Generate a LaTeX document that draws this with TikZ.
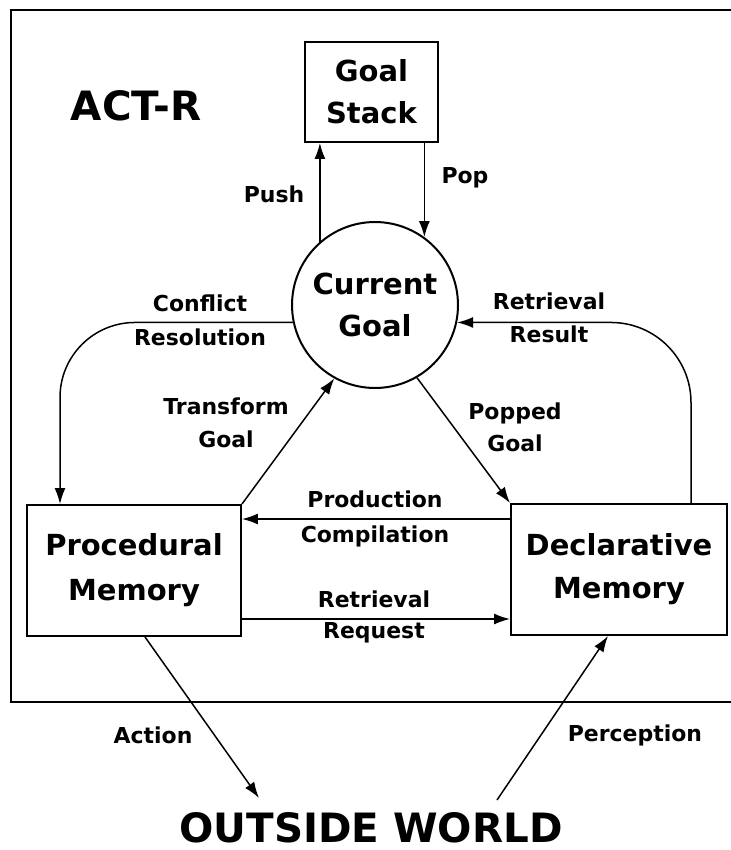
\documentclass[tikz,border=0pt]{standalone}
\usepackage{fontspec}
\setmainfont{DejaVu Sans}
\usepackage{tikz}
\usetikzlibrary{arrows.meta,calc}
\tikzstyle{tsLabel} = [
    text=black,
    font=\bfseries\fontsize{12.5}{15}\selectfont,
    align=center,
    inner sep=0pt
]
\tikzstyle{tsBig} = [
    text=black,
    font=\bfseries\fontsize{16.5}{21}\selectfont,
    align=center
]
\tikzstyle{tsTitle} = [
    text=black,
    font=\bfseries\fontsize{23}{28}\selectfont,
    inner sep=0pt
]
\tikzstyle{tsBox} = [
    rectangle,
    tsBig,
    draw=black,
    line width=0.4mm
]
\tikzstyle{tsArrow} = [
    draw=black,
    line width=0.3mm,
    -{Latex[length=3.2mm,width=2.2mm]}
]

\begin{document}
\begin{tikzpicture}[x=0.02cm, y=-0.02cm]

    \useasboundingbox (0,0) rectangle (731,850);

    % outer frame, open on the right
    \draw[line width=0.4mm] (731,10) -- (11,10) -- (11,702) -- (731,702);

    \node[tsTitle] (actr) at (136,106) {ACT-R};

    \node[  tsBox,
            minimum width=2.66cm,
            minimum height=2cm] (gs) at (371.5,92) {Goal\\[3pt]Stack};

    \node[  tsBox,
            circle,
            minimum size=3.32cm,
            inner sep=0pt] (cur) at (375,305) {Current\\[3pt]Goal};

    \node[  tsBox,
            minimum width=4.28cm,
            minimum height=2.62cm] (proc) at (134,570.5) {Procedural\\[4.5pt]Memory};

    \node[  tsBox,
            minimum width=4.32cm,
            minimum height=2.62cm] (decl) at (619,569.5) {Declarative\\[3.5pt]Memory};

    \node[tsTitle] (world) at (371,828) {OUTSIDE WORLD};

    % helper coordinates for the connectors
    \coordinate (cConf) at (60,0);
    \coordinate (cRes)  at (691,0);
    \coordinate (cProd) at (0,519);
    \coordinate (cReq)  at (0,619);
    \coordinate (cAct)  at (145,0);
    \coordinate (cPer)  at (608,0);
    \coordinate (act)   at (259,798);
    \coordinate (per)   at (497,800);

    \draw[tsArrow] (cur.131) -- (cur.131 |- gs.south);
    \draw[tsArrow] (gs.south -| cur.54) -- (cur.54);
    \draw[tsArrow, rounded corners=1.5cm] (cur.192) -| (proc.north -| cConf);
    \draw[tsArrow, rounded corners=1.6cm] (decl.north -| cRes) |- (cur.348);
    \draw[tsArrow] (proc.north east) -- (cur.241);
    \draw[tsArrow] (cur.300) -- (decl.north west);
    \draw[tsArrow] (decl.west |- cProd) -- (proc.east |- cProd);
    \draw[tsArrow] (proc.east |- cReq) -- (decl.west |- cReq);
    \draw[tsArrow] (proc.south -| cAct) -- (act);
    \draw[tsArrow] (per) -- (decl.south -| cPer);

    \node[tsLabel] (lPush) at (274,194) {Push};
    \node[tsLabel] (lPop)  at (465,178) {Pop};
    \node[tsLabel] (lConf) at (200,320) {Conflict\\[4.5pt]Resolution};
    \node[tsLabel] (lRes)  at (549,318) {Retrieval\\[4pt]Result};
    \node[tsLabel] (lTra)  at (226,423) {Transform\\[3.5pt]Goal};
    \node[tsLabel] (lPopd) at (515,427) {Popped\\[3pt]Goal};
    \node[tsLabel] (lProd) at (375,519) {Production\\[5pt]Compilation};
    \node[tsLabel] (lReq)  at (374,617) {Retrieval\\[2.5pt]Request};
    \node[tsLabel] (lAct)  at (153,735) {Action};
    \node[tsLabel] (lPer)  at (635,735) {Perception};

\end{tikzpicture}
\end{document}
